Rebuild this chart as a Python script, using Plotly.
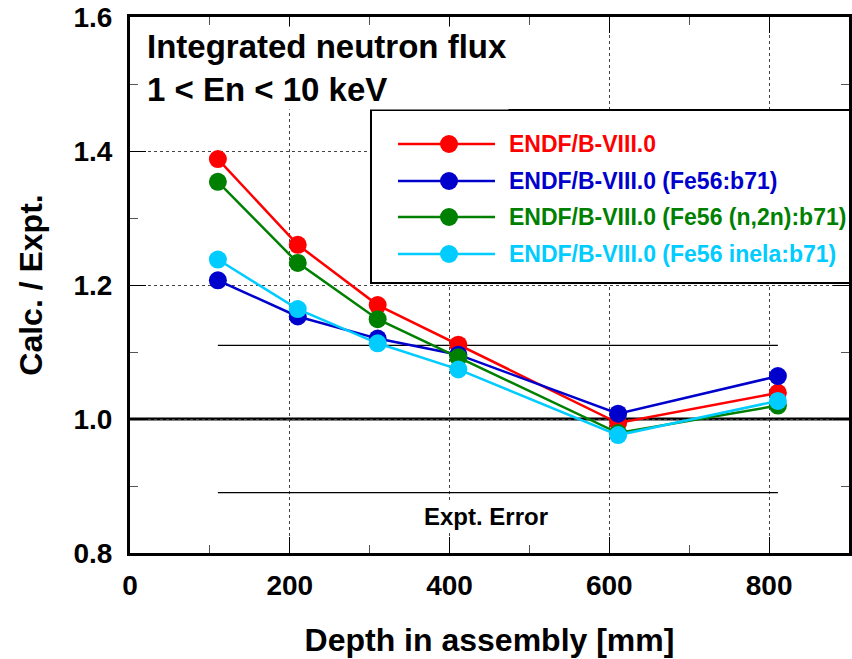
import plotly.graph_objects as go

# ---------------- data ----------------
depth = [110, 210, 310, 411, 611, 811]
series_names = [
    "ENDF/B-VIII.0",
    "ENDF/B-VIII.0 (Fe56:b71)",
    "ENDF/B-VIII.0 (Fe56 (n,2n):b71)",
    "ENDF/B-VIII.0 (Fe56 inela:b71)",
]
endf8 = [1.388, 1.260, 1.170, 1.111, 0.994, 1.039]
fe56_b71 = [1.207, 1.153, 1.120, 1.096, 1.008, 1.064]
fe56_n2n_b71 = [1.354, 1.233, 1.149, 1.092, 0.979, 1.020]
fe56_inela_b71 = [1.238, 1.164, 1.113, 1.074, 0.976, 1.027]
series_values = [endf8, fe56_b71, fe56_n2n_b71, fe56_inela_b71]
colors = ["#ff0000", "#0000cc", "#008000", "#00ccff"]

expt_error = 0.11
x_ticks = [0, 200, 400, 600, 800]
y_ticks = [0.8, 1.0, 1.2, 1.4, 1.6]

FONT = "Liberation Sans, Arial, Helvetica, sans-serif"

# plot area in pixels (for legend/annotation placement)
L, R, T, B = 130, 849, 17, 553
W, H = 852, 659


def px(xp):
    return (xp - L) / (R - L)


def py(yp):
    return (B - yp) / (B - T)


fig = go.Figure()
for name, vals, c in zip(series_names, series_values, colors):
    fig.add_trace(go.Scatter(
        x=depth, y=vals, name=name, mode="lines+markers",
        line=dict(color=c, width=2.5),
        marker=dict(color=c, size=18),
        showlegend=False,
    ))

shapes = []
# reference line at 1.0
shapes.append(dict(type="line", xref="paper", yref="y", x0=0, x1=1, y0=1.0, y1=1.0,
                   line=dict(color="black", width=3), layer="between"))
# experimental error band lines
for yv in (1 + expt_error, 1 - expt_error):
    shapes.append(dict(type="line", xref="x", yref="y", x0=depth[0], x1=depth[-1],
                       y0=yv, y1=yv, line=dict(color="black", width=1.3), layer="between"))

# manual legend
shapes.append(dict(type="rect", xref="paper", yref="paper",
                   x0=px(371), x1=px(850), y0=py(283), y1=py(110),
                   fillcolor="white", line=dict(color="black", width=2), layer="above"))
rows = [144, 181, 217, 254]
annotations = []
for name, c, r in zip(series_names, colors, rows):
    shapes.append(dict(type="line", xref="paper", yref="paper",
                       x0=px(398), x1=px(495), y0=py(r), y1=py(r),
                       line=dict(color=c, width=2.5), layer="above"))
    shapes.append(dict(type="circle", xref="paper", yref="paper",
                       xsizemode="pixel", ysizemode="pixel",
                       xanchor=px(449), yanchor=py(r),
                       x0=-9, x1=9, y0=-9, y1=9,
                       fillcolor=c, line=dict(color=c, width=0), layer="above"))
    annotations.append(dict(xref="paper", yref="paper", x=px(507), y=py(r),
                            xanchor="left", yanchor="middle", showarrow=False,
                            text=name, font=dict(family=FONT, size=23, color=c, weight="bold")))

# title in the plot
annotations.append(dict(xref="paper", yref="paper", x=px(145), y=py(26),
                        xanchor="left", yanchor="top", showarrow=False, align="left",
                        text="Integrated neutron flux<br>1 &lt; En &lt; 10 keV",
                        bgcolor="white", borderpad=1,
                        font=dict(family=FONT, size=33, color="black", weight="bold")))
# expt. error label
annotations.append(dict(xref="x", yref="y", x=445, y=0.855,
                        xanchor="center", yanchor="middle", showarrow=False,
                        text="Expt. Error", bgcolor="white",
                        font=dict(family=FONT, size=24, color="black", weight="bold")))

tickfont = dict(family=FONT, size=28, color="black", weight="bold")
fig.update_layout(
    width=W, height=H,
    margin=dict(l=L, r=W - R, t=T, b=H - B),
    plot_bgcolor="white", paper_bgcolor="white",
    shapes=shapes, annotations=annotations,
    xaxis=dict(
        range=[0, 900], tickvals=x_ticks, ticktext=[str(v) for v in x_ticks],
        ticks="inside", ticklen=16, tickwidth=1.2, tickcolor="black",
        showline=True, linecolor="black", linewidth=3, mirror="ticks",
        showgrid=True, gridcolor="#444444", griddash="dot", gridwidth=1,
        zeroline=False, tickfont=tickfont, ticklabelstandoff=5,
        automargin=False,
        minor=dict(dtick=100, ticks="inside", ticklen=8, tickwidth=1.2, tickcolor="#555555", showgrid=False),
        title=dict(text="Depth in assembly [mm]", standoff=30,
                   font=dict(family=FONT, size=32, color="black", weight="bold")),
    ),
    yaxis=dict(
        range=[0.8, 1.6], tickvals=y_ticks, ticktext=[f"{v:.1f}" for v in y_ticks],
        ticks="inside", ticklen=16, tickwidth=1.2, tickcolor="black",
        showline=True, linecolor="black", linewidth=3, mirror="ticks",
        showgrid=True, gridcolor="#444444", griddash="dot", gridwidth=1,
        zeroline=False, tickfont=tickfont, ticklabelstandoff=9,
        automargin=False,
        minor=dict(dtick=0.1, ticks="inside", ticklen=8, tickwidth=1.2, tickcolor="#555555", showgrid=False),
        title=dict(text="Calc. / Expt.", standoff=22,
                   font=dict(family=FONT, size=32, color="black", weight="bold")),
    ),
)

fig.write_html("out.html")
